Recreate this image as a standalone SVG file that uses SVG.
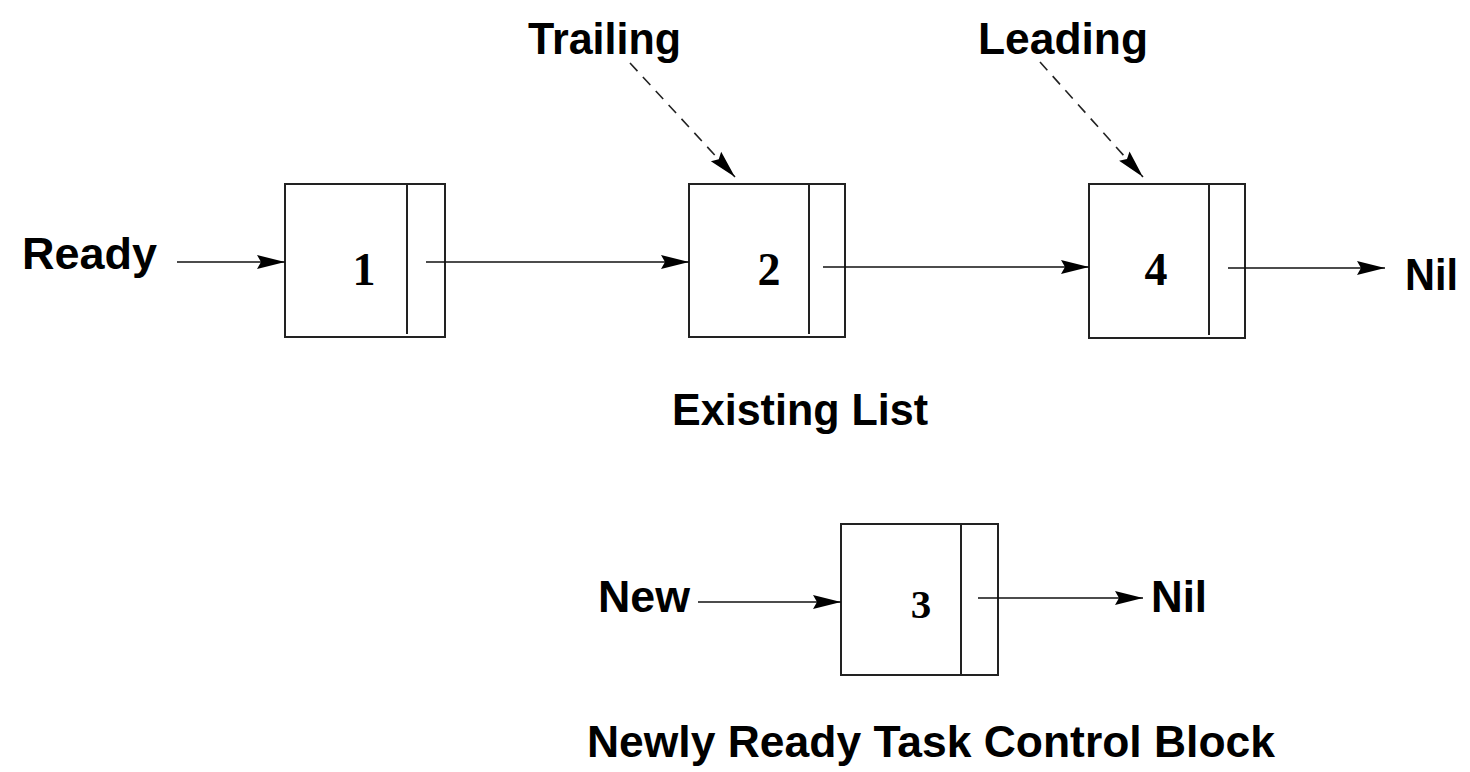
<svg xmlns="http://www.w3.org/2000/svg" width="1470" height="772" viewBox="0 0 1470 772">
  <style>
    .box { fill: #fff; stroke: #222; stroke-width: 2; }
    .div { stroke: #222; stroke-width: 2; }
    .link { stroke: #111; stroke-width: 1.6; fill: none; }
    .dash { stroke: #222; stroke-width: 1.6; fill: none; stroke-dasharray: 11 8; }
    .lbl { font-family: "Liberation Sans", Arial, sans-serif; font-weight: bold; font-size: 44px; fill: #000; }
    .num { font-family: "Liberation Serif", "Times New Roman", serif; font-weight: bold; font-size: 46px; fill: #000; text-anchor: middle; }
    .num3 { font-family: "Liberation Serif", "Times New Roman", serif; font-weight: bold; font-size: 41px; fill: #000; text-anchor: middle; }
  </style>
  <defs>
    <marker id="head" markerUnits="userSpaceOnUse" markerWidth="30" markerHeight="16" refX="28" refY="8" orient="auto">
      <path d="M0,1 L28,8 L0,15 L4,8 Z" fill="#000"/>
    </marker>
  </defs>
  <rect width="1470" height="772" fill="#fff"/>

  <!-- list nodes -->
  <g id="node1">
    <rect class="box" x="285" y="184" width="160" height="153"/>
    <line class="div" x1="407" y1="184" x2="407" y2="334"/>
    <text class="num" x="364" y="285">1</text>
  </g>
  <g id="node2">
    <rect class="box" x="689" y="184" width="156" height="153"/>
    <line class="div" x1="809" y1="184" x2="809" y2="334"/>
    <text class="num" x="769" y="285">2</text>
  </g>
  <g id="node4">
    <rect class="box" x="1089" y="184" width="156" height="154"/>
    <line class="div" x1="1209" y1="184" x2="1209" y2="335"/>
    <text class="num" x="1156" y="285">4</text>
  </g>
  <g id="node3">
    <rect class="box" x="841" y="524" width="157" height="151"/>
    <line class="div" x1="961" y1="524" x2="961" y2="675"/>
    <text class="num3" x="921" y="618">3</text>
  </g>

  <!-- labels -->
  <g id="labels">
    <text class="lbl" x="22" y="269" textLength="135" lengthAdjust="spacingAndGlyphs">Ready</text>
    <text class="lbl" x="528" y="54" textLength="153" lengthAdjust="spacingAndGlyphs">Trailing</text>
    <text class="lbl" x="978" y="54" textLength="170" lengthAdjust="spacingAndGlyphs">Leading</text>
    <text class="lbl" x="1405" y="290" textLength="53" lengthAdjust="spacingAndGlyphs">Nil</text>
    <text class="lbl" x="672" y="425" textLength="256" lengthAdjust="spacingAndGlyphs">Existing List</text>
    <text class="lbl" x="598" y="612" textLength="92" lengthAdjust="spacingAndGlyphs">New</text>
    <text class="lbl" x="1151" y="612" textLength="56" lengthAdjust="spacingAndGlyphs">Nil</text>
    <text class="lbl" x="587" y="757" textLength="688" lengthAdjust="spacingAndGlyphs">Newly Ready Task Control Block</text>
  </g>

  <!-- connectors -->
  <g id="connectors">
    <line class="link" x1="177" y1="262" x2="285" y2="262" marker-end="url(#head)"/>
    <line class="link" x1="426" y1="262" x2="689" y2="262" marker-end="url(#head)"/>
    <line class="link" x1="823" y1="267" x2="1089" y2="267" marker-end="url(#head)"/>
    <line class="link" x1="1228" y1="268" x2="1385" y2="268" marker-end="url(#head)"/>
    <line class="link" x1="698" y1="602" x2="841" y2="602" marker-end="url(#head)"/>
    <line class="link" x1="978" y1="598" x2="1143" y2="598" marker-end="url(#head)"/>
    <line class="dash" x1="630" y1="63" x2="735" y2="177" marker-end="url(#head)"/>
    <line class="dash" x1="1040" y1="62" x2="1143" y2="177" marker-end="url(#head)"/>
  </g>
</svg>
